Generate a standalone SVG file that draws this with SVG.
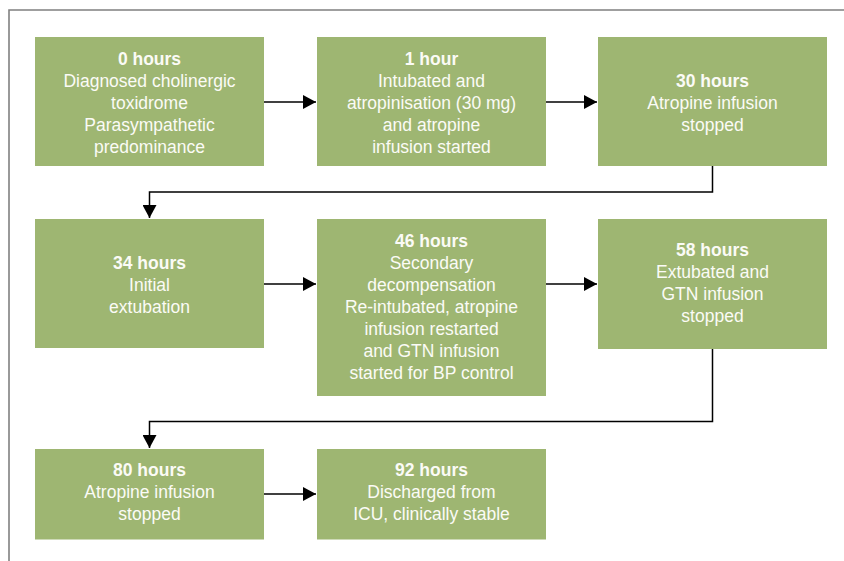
<svg xmlns="http://www.w3.org/2000/svg" width="844" height="561" viewBox="0 0 844 561">
<defs>
<marker id="ah" markerUnits="userSpaceOnUse" markerWidth="14" markerHeight="14" viewBox="0 0 14 14" refX="13" refY="7" orient="auto">
<path d="M0,0 L13,7 L0,14 Z" fill="#000"/>
</marker>
</defs>
<style>
.box{fill:#9eb672;}
.t{font-family:"Liberation Sans",Arial,sans-serif;font-size:17.5px;fill:#fbfbf6;text-anchor:middle;}
.b{font-weight:bold;}
.c{fill:none;stroke:#000;stroke-width:1.5;marker-end:url(#ah);}
.frame{fill:none;stroke:#808080;stroke-width:1.6;}
</style>
<rect width="844" height="561" fill="#fff"/>
<path class="frame" d="M9,561 L9,10 L844,10"/>
<g id="connectors">
<path class="c" d="M264,102 L316,102"/>
<path class="c" d="M546,102 L597,102"/>
<path class="c" d="M712.5,166 L712.5,192 L149.5,192 L149.5,218"/>
<path class="c" d="M264,284 L316,284"/>
<path class="c" d="M546,284 L597,284"/>
<path class="c" d="M712.5,348 L712.5,421.5 L149.5,421.5 L149.5,448"/>
<path class="c" d="M264,494 L316,494"/>
</g>
<g id="n0">
<rect class="box" x="35" y="37" width="229" height="129"/>
<text class="t" x="149.5" y="64.5"><tspan class="b">0 hours</tspan><tspan x="149.5" dy="22">Diagnosed cholinergic</tspan><tspan x="149.5" dy="22">toxidrome</tspan><tspan x="149.5" dy="22">Parasympathetic</tspan><tspan x="149.5" dy="22">predominance</tspan></text>
</g>
<g id="n1">
<rect class="box" x="317" y="37" width="229" height="129"/>
<text class="t" x="431.5" y="64.5"><tspan class="b">1 hour</tspan><tspan x="431.5" dy="22">Intubated and</tspan><tspan x="431.5" dy="22">atropinisation (30 mg)</tspan><tspan x="431.5" dy="22">and atropine</tspan><tspan x="431.5" dy="22">infusion started</tspan></text>
</g>
<g id="n2">
<rect class="box" x="598" y="37" width="229" height="129"/>
<text class="t" x="712.5" y="86.5"><tspan class="b">30 hours</tspan><tspan x="712.5" dy="22">Atropine infusion</tspan><tspan x="712.5" dy="22">stopped</tspan></text>
</g>
<g id="n3">
<rect class="box" x="35" y="219" width="229" height="129"/>
<text class="t" x="149.5" y="268.5"><tspan class="b">34 hours</tspan><tspan x="149.5" dy="22">Initial</tspan><tspan x="149.5" dy="22">extubation</tspan></text>
</g>
<g id="n4">
<rect class="box" x="317" y="219" width="229" height="177"/>
<text class="t" x="431.5" y="246.5"><tspan class="b">46 hours</tspan><tspan x="431.5" dy="22">Secondary</tspan><tspan x="431.5" dy="22">decompensation</tspan><tspan x="431.5" dy="22">Re-intubated, atropine</tspan><tspan x="431.5" dy="22">infusion restarted</tspan><tspan x="431.5" dy="22">and GTN infusion</tspan><tspan x="431.5" dy="22">started for BP control</tspan></text>
</g>
<g id="n5">
<rect class="box" x="598" y="219" width="229" height="130"/>
<text class="t" x="712.5" y="255.5"><tspan class="b">58 hours</tspan><tspan x="712.5" dy="22">Extubated and</tspan><tspan x="712.5" dy="22">GTN infusion</tspan><tspan x="712.5" dy="22.5">stopped</tspan></text>
</g>
<g id="n6">
<rect class="box" x="35" y="449" width="229" height="90.5"/>
<text class="t" x="149.5" y="475.5"><tspan class="b">80 hours</tspan><tspan x="149.5" dy="22">Atropine infusion</tspan><tspan x="149.5" dy="22.5">stopped</tspan></text>
</g>
<g id="n7">
<rect class="box" x="317" y="449" width="229" height="90.5"/>
<text class="t" x="431.5" y="475.5"><tspan class="b">92 hours</tspan><tspan x="431.5" dy="22">Discharged from</tspan><tspan x="431.5" dy="22.5">ICU, clinically stable</tspan></text>
</g>
</svg>
